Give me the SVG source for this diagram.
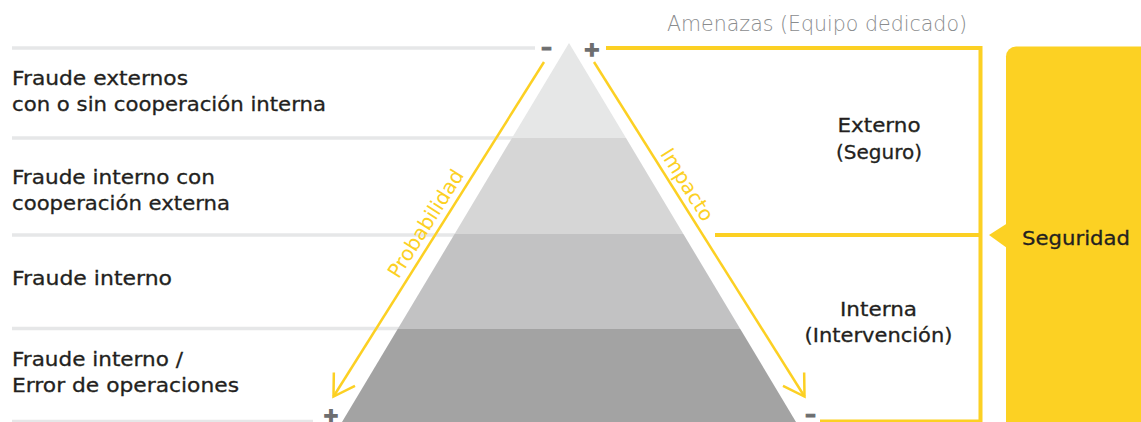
<svg xmlns="http://www.w3.org/2000/svg" width="1141" height="422" viewBox="0 0 1141 422">
  <defs>
    <style>
      .lbl { font-family: "DejaVu Sans", "Liberation Sans", sans-serif; font-size: 20px; fill: #231f20; stroke: #231f20; stroke-width: 0.3; }
      .yl { font-family: "DejaVu Sans", "Liberation Sans", sans-serif; font-size: 20px; fill: #fcd023; }
      .sign { font-family: "DejaVu Sans", "Liberation Sans", sans-serif; font-weight: bold; fill: #6d6e70; stroke: #6d6e70; text-anchor: middle; }
      .grule { stroke: #e6e7e8; stroke-width: 3.5; fill: none; }
      .yline { stroke: #fcd023; stroke-width: 4; fill: none; }
      .arrow { stroke: #fcd023; stroke-width: 2.5; fill: none; }
    </style>
    <marker id="vhead" markerUnits="userSpaceOnUse" viewBox="-24 -16 28 32" refX="0" refY="0" markerWidth="28" markerHeight="32" orient="auto">
      <path d="M-20.5,-12.5 L0,0 L-20.5,12.5" fill="none" stroke="#fcd023" stroke-width="2.5"/>
    </marker>
  </defs>

  <!-- horizontal separators -->
  <g id="separators">
    <line class="grule" x1="12" y1="48" x2="535" y2="48"/>
    <line class="grule" x1="12" y1="138" x2="569" y2="138"/>
    <line class="grule" x1="12" y1="235" x2="569" y2="235"/>
    <line class="grule" x1="12" y1="328.5" x2="569" y2="328.5"/>
    <line class="grule" x1="12" y1="421.5" x2="313" y2="421.5"/>
  </g>

  <!-- pyramid -->
  <g id="pyramid">
    <polygon points="569,43 626,138 512,138" fill="#e6e7e7"/>
    <polygon points="512,138 626,138 683.4,234 454.6,234" fill="#d6d6d6"/>
    <polygon points="454.6,234 683.4,234 740.3,329 397.7,329" fill="#c2c2c3"/>
    <polygon points="397.7,329 740.3,329 796,422 342,422" fill="#a3a3a3"/>
  </g>

  <!-- left labels -->
  <g id="label-externos">
    <text class="lbl" x="12" y="85" textLength="176" lengthAdjust="spacingAndGlyphs">Fraude externos</text>
    <text class="lbl" x="12" y="111" textLength="314" lengthAdjust="spacingAndGlyphs">con o sin cooperación interna</text>
  </g>
  <g id="label-interno-con">
    <text class="lbl" x="12" y="184" textLength="203" lengthAdjust="spacingAndGlyphs">Fraude interno con</text>
    <text class="lbl" x="12" y="210" textLength="218" lengthAdjust="spacingAndGlyphs">cooperación externa</text>
  </g>
  <g id="label-interno">
    <text class="lbl" x="12" y="285" textLength="160" lengthAdjust="spacingAndGlyphs">Fraude interno</text>
  </g>
  <g id="label-operaciones">
    <text class="lbl" x="12" y="366" textLength="171" lengthAdjust="spacingAndGlyphs">Fraude interno /</text>
    <text class="lbl" x="12" y="392" textLength="227" lengthAdjust="spacingAndGlyphs">Error de operaciones</text>
  </g>

  <!-- connectors -->
  <g id="connectors">
    <line class="arrow" x1="544" y1="62" x2="333.5" y2="396.5" marker-end="url(#vhead)"/>
    <line class="arrow" x1="594" y1="62" x2="804.5" y2="396.5" marker-end="url(#vhead)"/>
    <path class="yline" d="M606,48 H980.5 V421.5 H820"/>
    <line class="yline" x1="715" y1="235" x2="980.5" y2="235"/>
  </g>

  <!-- axis labels -->
  <g id="label-probabilidad">
    <text class="yl" transform="translate(437.5,231) rotate(-57.8)" x="0" y="-7" text-anchor="middle">Probabilidad</text>
  </g>
  <g id="label-impacto">
    <text class="yl" transform="translate(675.5,192) rotate(57.9)" x="0" y="-7" text-anchor="middle">Impacto</text>
  </g>

  <!-- signs -->
  <g id="signs">
    <text class="sign" x="546.5" y="54.5" font-size="22" stroke-width="1">–</text>
    <text class="sign" x="592" y="56" font-size="20" stroke-width="1.6">+</text>
    <text class="sign" x="331" y="421.5" font-size="19" stroke-width="1.6">+</text>
    <text class="sign" x="810.5" y="422" font-size="22" stroke-width="1">–</text>
  </g>

  <!-- top label -->
  <g id="label-amenazas">
    <text x="667" y="31" textLength="300" lengthAdjust="spacingAndGlyphs" style="font-family: 'DejaVu Sans', 'Liberation Sans', sans-serif; font-size: 20.5px; fill: #8a8c8e; font-weight: 300;">Amenazas (Equipo dedicado)</text>
  </g>

  <!-- right labels -->
  <g id="label-externo">
    <text class="lbl" x="879" y="132" text-anchor="middle" textLength="83" lengthAdjust="spacingAndGlyphs">Externo</text>
    <text class="lbl" x="879" y="159" text-anchor="middle" textLength="86" lengthAdjust="spacingAndGlyphs">(Seguro)</text>
  </g>
  <g id="label-interna">
    <text class="lbl" x="878.5" y="316" text-anchor="middle" textLength="77" lengthAdjust="spacingAndGlyphs">Interna</text>
    <text class="lbl" x="878.5" y="342" text-anchor="middle" textLength="148" lengthAdjust="spacingAndGlyphs">(Intervención)</text>
  </g>

  <!-- Seguridad box -->
  <g id="seguridad">
    <rect x="1006" y="46.5" width="150" height="400" rx="10" ry="10" fill="#fcd123"/>
    <polygon points="989,235 1007,223.5 1007,248" fill="#fcd123"/>
    <text class="lbl" x="1076" y="245" text-anchor="middle" textLength="108" lengthAdjust="spacingAndGlyphs">Seguridad</text>
  </g>
</svg>
